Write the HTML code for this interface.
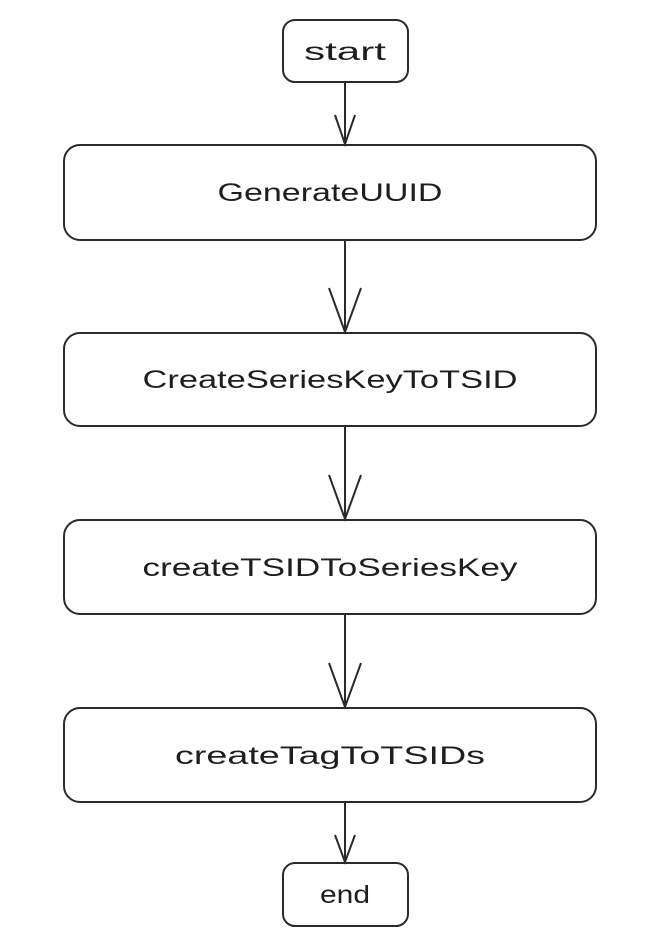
<!DOCTYPE html>
<html><head><meta charset="utf-8"><style>
html,body{margin:0;padding:0;background:#fff;}
svg{display:block;}
text{font-family:"Liberation Sans",sans-serif;font-size:25px;fill:#1e1e1e;}
</style></head><body>
<svg width="666" height="952" viewBox="0 0 666 952" xmlns="http://www.w3.org/2000/svg">
<g fill="none" stroke="#2a2a2a" stroke-width="2">
<rect x="283" y="20" width="125" height="62" rx="12"/>
<rect x="64" y="145" width="532" height="95" rx="16"/>
<rect x="64" y="333" width="532" height="93" rx="16"/>
<rect x="64" y="520" width="532" height="94" rx="16"/>
<rect x="64" y="708" width="532" height="94" rx="16"/>
<rect x="283" y="863" width="125" height="63" rx="12"/>
<line x1="345" y1="82" x2="345" y2="144"/>
<polyline points="335,115 345,144 355,115"/>
<line x1="345" y1="240" x2="345" y2="332"/>
<polyline points="329,288 345,332 361,288"/>
<line x1="345" y1="426" x2="345" y2="519"/>
<polyline points="329,475 345,519 361,475"/>
<line x1="345" y1="614" x2="345" y2="707"/>
<polyline points="329,663 345,707 361,663"/>
<line x1="345" y1="802" x2="345" y2="862"/>
<polyline points="335,835 345,862 355,835"/>
</g>
<text x="345" y="60" text-anchor="middle" textLength="82" lengthAdjust="spacingAndGlyphs">start</text>
<text x="330" y="201" text-anchor="middle" textLength="225" lengthAdjust="spacingAndGlyphs">GenerateUUID</text>
<text x="330" y="388" text-anchor="middle" textLength="375" lengthAdjust="spacingAndGlyphs">CreateSeriesKeyToTSID</text>
<text x="330" y="576" text-anchor="middle" textLength="375" lengthAdjust="spacingAndGlyphs">createTSIDToSeriesKey</text>
<text x="330" y="764" text-anchor="middle" textLength="310" lengthAdjust="spacingAndGlyphs">createTagToTSIDs</text>
<text x="345" y="903" text-anchor="middle" textLength="50" lengthAdjust="spacingAndGlyphs">end</text>
</svg>
</body></html>
